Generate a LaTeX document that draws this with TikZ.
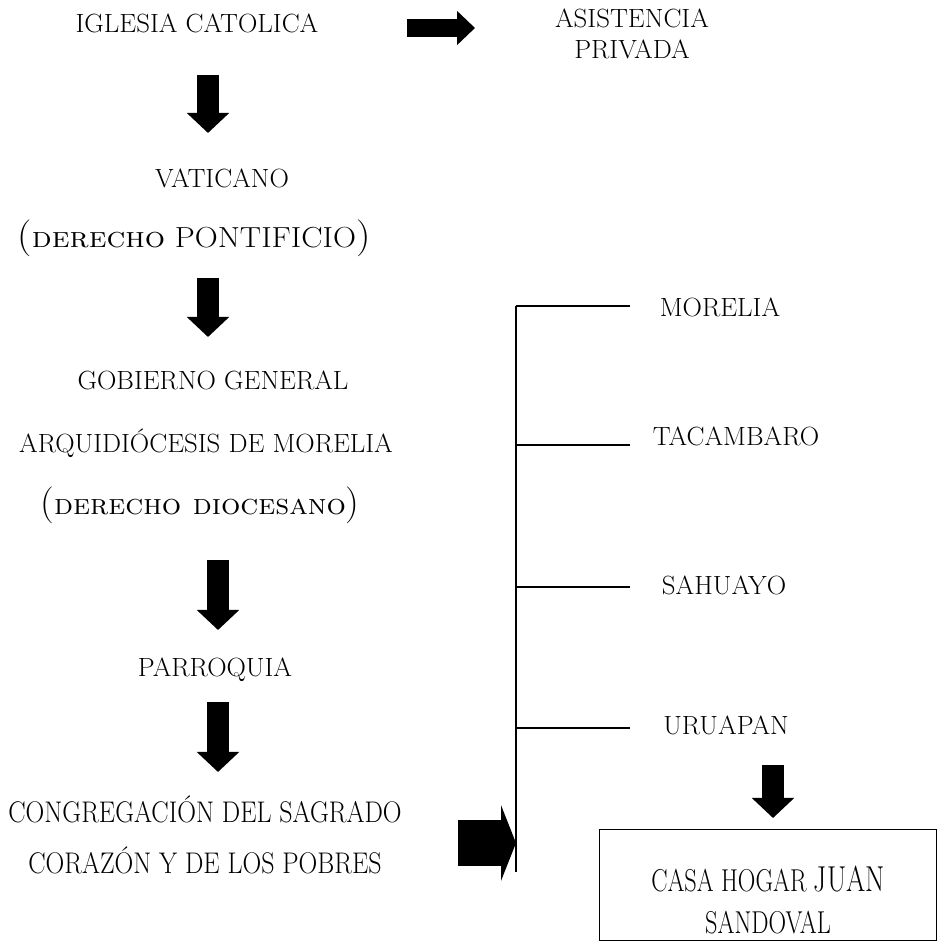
\documentclass[tikz,border=0pt]{standalone}
\usetikzlibrary{arrows.meta}
\tikzset{
  lbl/.style={font=\fontsize{15}{18}\selectfont, align=center, inner sep=1pt},
  narrow/.style={font=\fontsize{17}{20}\selectfont, align=center, inner sep=1pt},
  fatdown/.style={line width=12.5pt, -{Triangle[length=11.4pt,width=23.5pt]}},
  thinright/.style={line width=9.7pt, -{Triangle[length=10.2pt,width=18.8pt]}},
  fatright/.style={line width=26pt, -{Triangle[length=8.5pt,width=42.7pt]}},
  bus/.style={line width=0.7pt}
}
\newcommand{\widetxt}[1]{\scalebox{1.02}[1]{#1}}
\newcommand{\narrowtxt}[1]{\scalebox{0.87}[1]{#1}}
\newcommand{\bigparen}[1]{{\fontsize{21}{24}\selectfont#1}}
\begin{document}
\begin{tikzpicture}[x=0.02cm, y=-0.02cm]
  \useasboundingbox (0,0) rectangle (941,945);
  % left column
  \node[lbl] (iglesia) at (197,23) {\widetxt{IGLESIA CATOLICA}};
  \node[lbl] (asistencia) at (632,34) {\widetxt{ASISTENCIA}\\\widetxt{PRIVADA}};
  \node[lbl] (vaticano) at (222,178) {\widetxt{VATICANO}};
  \node[lbl, font=\fontsize{16.5}{20}\selectfont] (pontificio) at (194,238)
    {\scalebox{1.1}[1]{\bigparen{(}\textsc{derecho} PONTIFICIO\bigparen{)}}};
  \node[lbl] (gobierno) at (213,380) {\widetxt{GOBIERNO GENERAL}};
  \node[lbl] (arqui) at (206,443) {\widetxt{ARQUIDIÓCESIS DE MORELIA}};
  \node[lbl, font=\fontsize{16.5}{20}\selectfont] (diocesano) at (200,505)
    {\scalebox{1.05}[1]{\bigparen{(}\textsc{derecho diocesano}\bigparen{)}}};
  \node[lbl] (parroquia) at (215,670) {\widetxt{PARROQUIA}};
  \node[narrow] (congregacion) at (205,835)
    {\narrowtxt{CONGREGACIÓN DEL SAGRADO}\\[9pt]\narrowtxt{CORAZÓN Y DE LOS POBRES}};
  % right column
  \node[lbl] (morelia) at (720,307) {\widetxt{MORELIA}};
  \node[lbl] (tacambaro) at (736,436) {\widetxt{TACAMBARO}};
  \node[lbl] (sahuayo) at (724,585) {\widetxt{SAHUAYO}};
  \node[lbl] (uruapan) at (726,725) {\widetxt{URUAPAN}};
  \node[draw, line width=0.9pt, minimum width=6.74cm, minimum height=2.22cm] (casa) at (768,885) {};
  \node[narrow, font=\fontsize{18}{20}\selectfont] (casatxt) at (768,900)
    {\scalebox{0.77}[1]{CASA HOGAR {\fontsize{20.5}{20}\selectfont JUAN}}\\[4pt]\scalebox{0.77}[1]{SANDOVAL}};
  % arrows
  \coordinate (a1) at (208,75);  \coordinate (b1) at (208,133);
  \coordinate (a2) at (208,278); \coordinate (b2) at (208,337);
  \coordinate (a3) at (218,560); \coordinate (b3) at (218,630);
  \coordinate (a4) at (218,702); \coordinate (b4) at (218,772);
  \coordinate (a5) at (773,765); \coordinate (b5) at (773,818);
  \draw[fatdown] (a1) -- (b1);
  \draw[fatdown] (a2) -- (b2);
  \draw[fatdown] (a3) -- (b3);
  \draw[fatdown] (a4) -- (b4);
  \draw[fatdown] (a5) -- (b5);
  \coordinate (r1) at (407,28); \coordinate (s1) at (475,28);
  \draw[thinright] (r1) -- (s1);
  % bracket
  \coordinate (bustop) at (516,306);
  \coordinate (busbot) at (516,872);
  \draw[bus] (bustop) -- (busbot);
  \foreach \y in {306,445,587,728}
    \draw[bus] (516,\y) -- (630,\y);
  \coordinate (r2) at (458,843);
  \draw[fatright] (r2) -- (busbot |- r2);
\end{tikzpicture}
\end{document}
